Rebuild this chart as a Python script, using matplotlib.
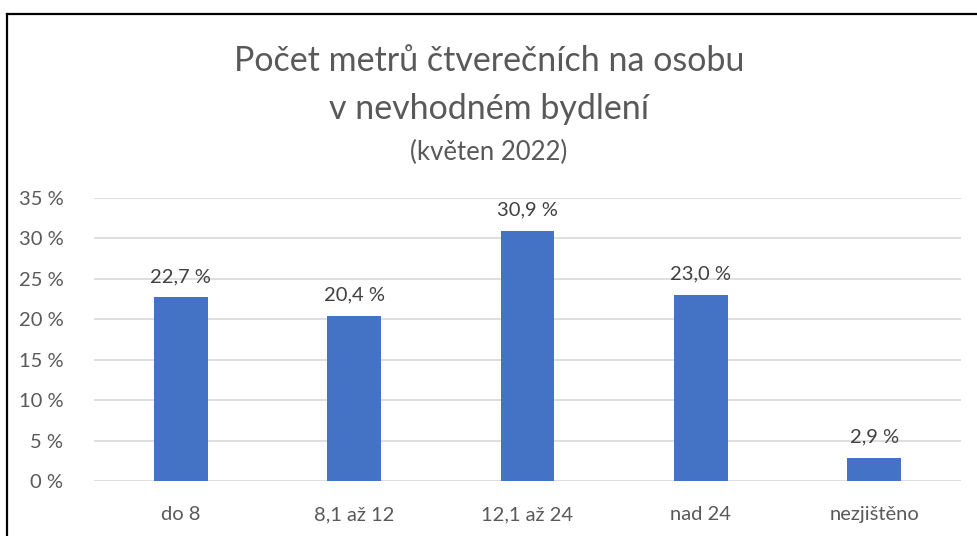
import matplotlib
matplotlib.use("Agg")
import matplotlib.pyplot as plt
from matplotlib.lines import Line2D

categories = ["do 8", "8,1 až 12", "12,1 až 24", "nad 24", "nezjištěno"]
values = [22.7, 20.4, 30.9, 23.0, 2.9]
yticks = [0, 5, 10, 15, 20, 25, 30, 35]

BAR_COLOR = "#4472C4"
TEXT_COLOR = "#595959"
LABEL_COLOR = "#404040"
GRID_COLOR = "#D9D9D9"

plt.rcParams["font.family"] = ["Lato", "DejaVu Sans"]

fig = plt.figure(figsize=(9.78, 5.36), dpi=100)
ax = fig.add_axes([0.0961, 0.1026, 0.8865, 0.528])

x = list(range(len(categories)))
ax.bar(x, values, width=0.31, color=BAR_COLOR, zorder=3)

for xi, v in zip(x, values):
    ax.annotate(f"{v:.1f} %".replace(".", ","), (xi, v), xytext=(0, 9),
                textcoords="offset points", ha="center", va="bottom",
                fontsize=14.5, color=LABEL_COLOR)

ax.set_xlim(-0.5, len(categories) - 0.5)
ax.set_ylim(0, 35)
ax.set_yticks(yticks)
ax.set_yticklabels([f"{t} %" for t in yticks], fontsize=14.5, color=TEXT_COLOR)
ax.set_xticks(x)
ax.set_xticklabels(categories, fontsize=14.5, color=TEXT_COLOR)
ax.tick_params(axis="both", length=0)
ax.tick_params(axis="y", pad=22)
ax.tick_params(axis="x", pad=18)
ax.yaxis.grid(True, color=GRID_COLOR, linewidth=1.2, zorder=0)
for s in ax.spines.values():
    s.set_visible(False)

# chart title, three lines
fig.text(0.5, 1 - 61 / 536, "Počet metrů čtverečních na osobu", ha="center", va="center",
         fontsize=24.5, color=TEXT_COLOR)
fig.text(0.5, 1 - 109 / 536, "v nevhodném bydlení", ha="center", va="center",
         fontsize=24.5, color=TEXT_COLOR)
fig.text(0.5, 1 - 152 / 536, "(květen 2022)", ha="center", va="center",
         fontsize=18.5, color=TEXT_COLOR)

# frame on top and left edges
fig.add_artist(Line2D([7 / 978, 7 / 978], [0, 1 - 14 / 536], transform=fig.transFigure,
                      color="black", linewidth=1.6))
fig.add_artist(Line2D([7 / 978, 1], [1 - 14 / 536, 1 - 14 / 536], transform=fig.transFigure,
                      color="black", linewidth=1.6))

fig.savefig("out.png", dpi=100)
